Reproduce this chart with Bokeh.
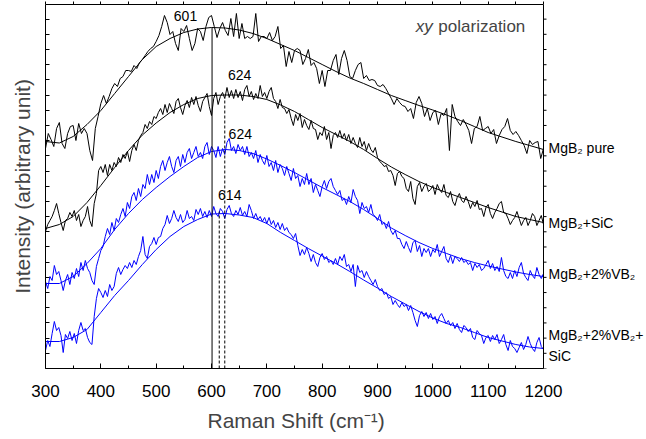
import numpy as np
from bokeh.plotting import figure
from bokeh.models import (Range1d, FixedTicker, LinearAxis, Label, ColumnDataSource,
                          CustomJSTickFormatter, Span, Title)
from bokeh.core.properties import value
from bokeh.embed import file_html
from bokeh.resources import INLINE

# Raman shift grids (cm^-1)
shift_pure = np.arange(300, 1201, 5)     # MgB2 pure spectrum
shift_dense = np.arange(300, 1201, 4)    # other spectra
shift_fit = np.arange(300, 1201, 25)     # fitted curves

# Intensities (arbitrary units)
pure = [220,235,229,222,240,246,225,220,235,242,
243,228,245,235,240,235,218,208,240,252,
265,273,265,272,280,285,282,290,292,298,
298,297,303,300,306,309,313,317,320,322,
327,333,342,353,346,334,337,325,318,340,
337,343,330,318,325,340,337,328,342,351,
353,342,331,340,346,338,333,350,332,355,
330,345,330,332,330,332,355,327,332,332,
330,336,328,332,342,320,323,302,317,306,
318,320,318,304,310,319,303,306,300,285,
298,282,298,298,308,314,294,310,318,308,
292,290,298,304,306,290,293,288,289,288,
283,282,284,280,275,270,264,270,266,263,
262,257,260,250,266,272,265,252,260,248,
256,258,244,255,253,260,218,264,252,247,
243,249,244,238,225,240,242,252,238,240,
242,235,239,225,233,239,242,250,238,234,
237,233,228,223,215,228,224,226,227,210,
220]

sic = [137,144,148,152,158,165,155,146,138,148,
150,156,152,158,148,154,142,148,152,162,
148,142,165,175,198,202,196,204,193,204,
198,206,202,211,206,214,210,217,207,218,
224,218,228,233,236,244,240,247,244,252,
250,256,260,254,264,256,265,260,255,267,
270,261,254,263,268,261,271,264,272,263,
257,267,271,275,262,253,270,276,264,272,
276,270,281,271,278,270,279,271,277,268,
279,283,272,277,269,275,270,283,272,276,
270,277,281,270,267,260,269,261,260,255,
259,250,243,254,248,255,241,249,243,239,
248,240,239,229,236,233,242,229,236,220,
233,236,231,238,230,235,228,234,225,231,
225,221,231,222,227,218,225,219,216,221,
211,207,205,202,203,197,198,193,183,195,
197,192,190,180,177,187,170,164,182,186,
177,182,185,177,179,183,174,184,179,176,
184,173,171,177,167,163,171,175,168,166,
172,167,160,166,162,168,159,160,152,161,
164,155,150,156,160,165,167,156,155,150,
144,148,151,157,150,143,148,151,143,148,
155,152,143,148,153,144]

vb2 = [87,80,92,88,103,94,97,88,78,88,
94,84,96,90,100,92,106,98,108,100,
96,88,84,102,110,118,122,132,140,134,
146,138,150,146,154,160,152,166,160,172,
176,168,180,172,184,180,194,184,194,186,
198,190,202,208,198,206,212,202,196,208,
212,202,214,206,216,220,210,216,222,212,
216,210,222,226,214,222,218,211,222,212,
220,214,226,230,218,222,215,224,218,222,
214,222,212,216,210,218,206,214,208,204,
213,202,206,198,208,196,204,200,193,202,
195,188,200,190,193,182,190,184,195,184,
190,176,184,178,172,182,188,180,187,190,
182,178,174,178,168,170,164,172,166,179,
172,168,155,166,160,162,156,164,154,152,
148,154,144,146,140,147,138,134,138,130,
130,124,120,127,121,116,126,128,117,123,
112,120,116,120,112,119,116,124,112,117,
122,110,106,113,105,112,110,107,111,106,
108,104,106,98,105,101,104,98,100,104,
108,100,105,98,102,97,111,98,92,90,
96,90,98,92,101,106,95,91,88,98,
93,90,101,94,90,95]

vb2_sic = [18,28,22,35,47,38,41,33,16,34,
30,37,28,35,25,38,46,38,40,31,
26,24,52,70,80,76,71,78,72,84,
78,82,95,101,94,99,103,100,106,101,
108,104,112,118,132,114,110,122,125,131,
124,131,132,140,144,153,145,150,158,151,
147,154,146,149,158,150,152,148,159,154,
160,152,157,151,158,152,162,155,152,160,
157,150,159,163,155,152,158,154,161,153,
157,152,164,158,150,155,149,152,147,151,
145,151,144,148,141,146,139,145,138,141,
136,134,130,135,123,113,119,114,121,115,
107,114,106,102,111,115,109,112,106,108,
104,110,104,112,108,114,102,104,97,104,
82,103,96,98,91,97,92,88,84,89,
82,78,80,74,76,70,72,64,68,64,
61,66,62,64,58,63,56,48,42,53,
57,52,56,50,55,49,52,45,52,55,
50,45,48,43,46,40,45,39,36,43,
41,37,40,31,29,38,35,33,25,31,
33,27,33,29,34,25,29,34,24,18,
28,22,20,16,21,26,19,24,32,25,
20,17,26,31,22,19]

fit_pure = [227,225.5,232,244,258,275,292,309,322,330,336,339.5,341,340.5,338.5,335,330,324,318,311,304,297,290.5,285,279,273,268,263,258.5,253.5,248,242,236,231.5,227,223,219]
fit_sic = [140,144,152,166,183,201,218,233.5,245.5,256,264,270,273,273.5,273.5,272,269,263.5,257,249,241,234,227,219,210,201.5,194,187,181,176,171,166,161,156.5,152,149,146]
fit_vb2 = [85,85,92,105,120,139,155,169,181,192,202,211,217,219,218,215,209.5,203,196,188.5,181,174,167,159,150,140.5,133,126,120,115,110,106,102.5,99.5,96.5,94,92]
fit_vb2_sic = [27,27,31,39,56,73,88,104,119,132,142,149,154.5,155,153.5,151,145,136,128,120,112.5,105,97,88.5,80.5,72,64.5,57,50.5,45,41,36,31,27.5,24,21.5,20]

# peak markers: position, top of marker line, label
peak_pos = [601, 614, 624]
peak_top = [341, 157, 270]
peak_labels = ["601", "624", "624", "614"]
peak_label_x = [553, 651, 652, 633]
peak_label_y = [353, 294, 235, 174]

sample_names = ["MgB\u2082 pure", "MgB\u2082+SiC", "MgB\u2082+2%VB\u2082", "MgB\u2082+2%VB\u2082+", "SiC"]
sample_label_y = [221, 146, 95, 34, 13]

x_ticks = list(range(300, 1201, 100))
x_minor = list(range(350, 1200, 100))

FONT = "Liberation Sans"
BLUE = "#0000ff"
X_MIN, X_MAX = 300, 1200
Y_MAX = 364
PX_PER_CM = 498 / 900.0
FRAME_W = 601
X_END = X_MAX + (FRAME_W - 498) / PX_PER_CM   # room for the sample names

p = figure(frame_width=FRAME_W, frame_height=364, output_backend="svg", toolbar_location=None,
           x_range=Range1d(X_MIN, X_END), y_range=Range1d(0, Y_MAX),
           min_border_left=45, min_border_right=0, min_border_top=4, min_border_bottom=2)
p.xgrid.visible = False
p.ygrid.visible = False
p.outline_line_color = None
p.background_fill_color = "white"
p.border_fill_color = "white"

p.line(shift_pure, pure, color="black", line_width=1)
p.line(shift_dense, sic, color="black", line_width=1)
p.line(shift_dense, vb2, color=BLUE, line_width=1)
p.line(shift_dense, vb2_sic, color=BLUE, line_width=1)
p.line(shift_fit, fit_pure, color="black", line_width=1)
p.line(shift_fit, fit_sic, color="black", line_width=1)
p.line(shift_fit, fit_vb2, color=BLUE, line_width=1)
p.line(shift_fit, fit_vb2_sic, color=BLUE, line_width=1)

p.segment(x0=peak_pos[:1], y0=[0], x1=peak_pos[:1], y1=peak_top[:1], color="black", line_width=1)
p.segment(x0=peak_pos[1:], y0=[0, 0], x1=peak_pos[1:], y1=peak_top[1:], color="black",
          line_width=1, line_dash="3 2")

blank = CustomJSTickFormatter(code="return '';")

# bottom axis
xa = p.xaxis[0]
xa.bounds = (X_MIN, X_MAX)
xa.ticker = FixedTicker(ticks=x_ticks, minor_ticks=x_minor)
xa.major_tick_in = 5
xa.major_tick_out = 0
xa.minor_tick_in = 3
xa.minor_tick_out = 0
xa.major_label_text_font = FONT
xa.major_label_text_font_size = "17px"
xa.major_label_text_color = "black"
xa.major_label_standoff = 16
xa.axis_line_color = "black"

# x-axis title, under the 300-1200 span
p.add_layout(Title(text="Raman Shift (cm\u207b\u00b9)", align="left", offset=162,
                   text_font=FONT, text_font_size="21px", text_font_style="normal",
                   standoff=14), "below")

# top axis (frame edge)
ta = LinearAxis(bounds=(X_MIN, X_MAX), ticker=FixedTicker(ticks=x_ticks, minor_ticks=x_minor),
                formatter=blank, major_tick_in=0, major_tick_out=3, minor_tick_in=0, minor_tick_out=3,
                major_label_standoff=0, axis_line_color="black", axis_line_width=1)
p.add_layout(ta, "above")

# left axis
y_ticks = [i * 15.19 for i in range(24)]
ya = p.yaxis[0]
ya.ticker = FixedTicker(ticks=y_ticks)
ya.formatter = blank
ya.major_tick_in = 4
ya.major_tick_out = 0
ya.minor_tick_line_color = None
ya.major_label_standoff = 0
ya.axis_label = "Intensity (arbitrary unit)"
ya.axis_label_text_font = FONT
ya.axis_label_text_font_size = "21px"
ya.axis_label_text_font_style = "normal"
ya.axis_label_standoff = 12
ya.axis_line_color = "black"

# right frame edge at 1200 cm^-1 with outward ticks
p.add_layout(Span(location=X_MAX, dimension="height", line_color="black", line_width=1))
p.ray(x=[X_MAX] * len(y_ticks), y=y_ticks, length=3, length_units="screen", angle=0,
      color="black", line_width=1)

for t, x, y in zip(peak_labels, peak_label_x, peak_label_y):
    p.add_layout(Label(x=x, y=y, text=t, text_align="center", text_baseline="middle",
                       text_font=FONT, text_font_size="14px", text_color="black"))

p.add_layout(Label(x=969, y=342, text="xy", text_align="left", text_baseline="middle",
                   text_font=FONT, text_font_size="17px", text_font_style="italic"))
p.add_layout(Label(x=1010, y=342, text="polarization", text_align="left", text_baseline="middle",
                   text_font=FONT, text_font_size="17px"))

src = ColumnDataSource(dict(x=[X_MAX + 5 / PX_PER_CM] * len(sample_names), y=sample_label_y,
                            text=sample_names))
p.text(x="x", y="y", text="text", source=src, text_align="left", text_baseline="middle",
       text_font=value(FONT), text_font_size="14px", text_color="black")

open("out.html", "w").write(file_html(p, INLINE))
